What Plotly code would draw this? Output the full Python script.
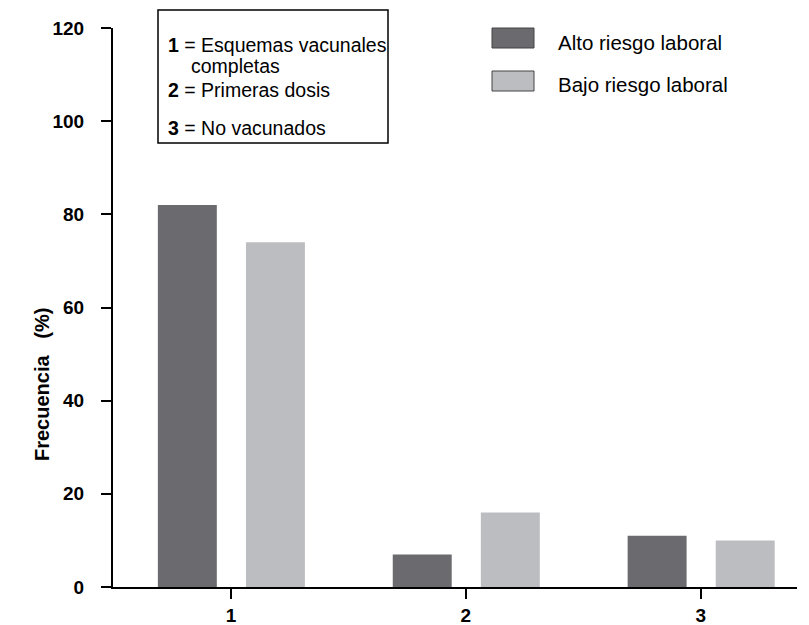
import plotly.graph_objects as go

categories = [1, 2, 3]
tick_labels = ["1", "2", "3"]
alto = [82, 7, 11]
bajo = [74, 16, 10]
series_names = ["Alto riesgo laboral", "Bajo riesgo laboral"]
y_ticks = [0, 20, 40, 60, 80, 100, 120]

DARK = "#6b6b6f"
LIGHT = "#bcbdc1"
FONT = "Liberation Sans, Arial, sans-serif"

# page body adds an 8px offset
OFF = 8
W, H = 801, 621
ML, MR, MT, MB = 105, 12, 20, 42

fig = go.Figure()
fig.add_trace(go.Bar(x=categories, y=alto, name=series_names[0], marker_color=DARK,
                     marker_line_width=0, width=0.251, offset=-0.311))
fig.add_trace(go.Bar(x=categories, y=bajo, name=series_names[1], marker_color=LIGHT,
                     marker_line_width=0, width=0.251, offset=0.064))


def pxx(p):
    return (p - OFF - ML) / (W - ML - MR)


def pxy(p):
    return (H - MB - (p - OFF)) / (H - MT - MB)


shapes = []
annotations = []
# text box
shapes.append(dict(type="rect", xref="paper", yref="paper",
                   x0=pxx(158), x1=pxx(388), y0=pxy(143), y1=pxy(10),
                   line=dict(color="black", width=1.5), fillcolor="white"))

box_lines = [("<b>1</b> = Esquemas vacunales", 166, 45), ("completas", 189, 66),
             ("<b>2</b> = Primeras dosis", 166, 90), ("<b>3</b> = No vacunados", 166, 128)]
for txt, xx, yy in box_lines:
    annotations.append(dict(text=txt, xref="paper", yref="paper", x=pxx(xx), y=pxy(yy),
                            xanchor="left", yanchor="middle", showarrow=False,
                            font=dict(family=FONT, size=19.5, color="black")))

# legend
leg = [(series_names[0], DARK, 28, 48, 42), (series_names[1], LIGHT, 71, 91, 84)]
for name, col, y0, y1, yt in leg:
    shapes.append(dict(type="rect", xref="paper", yref="paper",
                       x0=pxx(492), x1=pxx(534), y0=pxy(y1), y1=pxy(y0),
                       line=dict(color="#444444", width=1), fillcolor=col))
    annotations.append(dict(text=name, xref="paper", yref="paper", x=pxx(556), y=pxy(yt),
                            xanchor="left", yanchor="middle", showarrow=False,
                            font=dict(family=FONT, size=20.5, color="black")))

# y-axis title
annotations.append(dict(text="<b>Frecuencia   (%)</b>", xref="paper", yref="paper",
                        x=pxx(42), y=pxy(385), xanchor="center", yanchor="middle",
                        textangle=-90, showarrow=False,
                        font=dict(family=FONT, size=20, color="black")))

fig.update_layout(
    width=W, height=H, margin=dict(l=ML, r=MR, t=MT, b=MB, autoexpand=False),
    plot_bgcolor="white", paper_bgcolor="white", showlegend=False,
    barmode="overlay", shapes=shapes, annotations=annotations,
    font=dict(family=FONT, size=19, color="black"),
)
fig.update_xaxes(range=[0.498, 3.41], tickvals=categories,
                 ticktext=["<b>%s</b>" % t for t in tick_labels],
                 showline=True, linecolor="black", linewidth=2, ticks="outside", ticklen=10,
                 tickwidth=2, tickcolor="black", showgrid=False, zeroline=False,
                 automargin=False, ticklabelstandoff=0,
                 tickfont=dict(family=FONT, size=19, color="black"))
fig.update_yaxes(range=[0, 120], tickvals=y_ticks, ticktext=["<b>%d</b>" % v for v in y_ticks],
                 showline=True, linecolor="black", linewidth=2, ticks="outside", ticklen=10,
                 tickwidth=2, tickcolor="black", showgrid=False, zeroline=False,
                 automargin=False, ticklabelstandoff=13,
                 tickfont=dict(family=FONT, size=19, color="black"))

fig.write_html("out.html")
